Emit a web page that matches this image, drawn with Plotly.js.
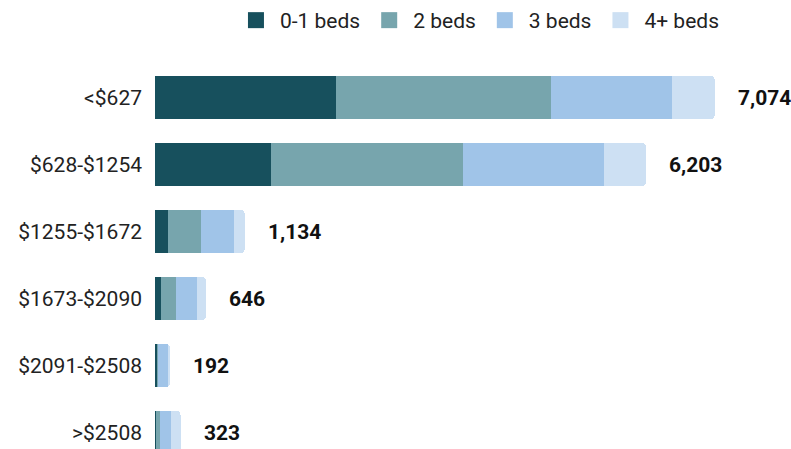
<!DOCTYPE html>
<html>
<head>
<meta charset="utf-8">
<script src="https://cdn.plot.ly/plotly-3.0.1.min.js"></script>
<style>html,body{margin:0;padding:0;overflow:hidden;background:#fff;}</style>
</head>
<body>
<div id="chart" style="width:791px;height:449px;"></div>
<script>
const categories = ["<$627", "$628-$1254", "$1255-$1672", "$1673-$2090", "$2091-$2508", ">$2508"];
const seriesNames = ["0-1 beds", "2 beds", "3 beds", "4+ beds"];
const beds01 = [2285, 1468, 164, 80, 25, 17];
const beds2 = [2718, 2428, 417, 189, 17, 50];
const beds3 = [1536, 1776, 413, 260, 118, 135];
const beds4 = [535, 531, 140, 117, 32, 121];
const totals = [7074, 6203, 1134, 646, 192, 323];
const colors = ["#17505d", "#77a5ad", "#a0c4e8", "#cde0f3"];

const seriesValues = [beds01, beds2, beds3, beds4];
const traces = seriesValues.map((vals, i) => ({
  type: "bar",
  orientation: "h",
  name: seriesNames[i],
  legendgroup: seriesNames[i],
  showlegend: false,
  y: categories,
  x: vals,
  marker: {color: colors[i], line: {width: 0}},
  hoverinfo: "x+name"
}));
// legend entries with larger square swatches, same groups as the bars
seriesNames.forEach((n, i) => traces.push({
  type: "scatter", mode: "markers", name: n, legendgroup: n, showlegend: true,
  x: [null], y: [null],
  marker: {symbol: "square", size: 16, color: colors[i]},
  hoverinfo: "skip"
}));

const annotations = categories.map((c, i) => ({
  x: totals[i], y: c, xref: "x", yref: "y",
  text: totals[i].toLocaleString("en-US"),
  showarrow: false, xanchor: "left", yanchor: "middle", xshift: 21,
  font: {family: "Roboto", size: 21, color: "#111", weight: 700}
}));

const layout = {
  width: 791, height: 449,
  margin: {l: 155, r: 3, t: 64, b: 0, pad: 0},
  barmode: "stack",
  bargap: 0.36,
  barcornerradius: 4,
  paper_bgcolor: "#fff", plot_bgcolor: "#fff",
  font: {family: "Roboto", size: 21, color: "#222"},
  xaxis: {range: [0, 8000], showgrid: false, zeroline: false, showticklabels: false, showline: false, fixedrange: true},
  yaxis: {type: "category", range: [5.246, -0.5], showgrid: false, zeroline: false, showline: false, ticks: "", ticklabelstandoff: 12,
          tickfont: {family: "Roboto", size: 21, color: "#222"}, fixedrange: true},
  showlegend: true,
  legend: {orientation: "h", x: 0.511, xanchor: "center", y: 1, yref: "container", yanchor: "top", itemwidth: 38,
           font: {family: "Roboto", size: 21, color: "#222"}, traceorder: "normal", itemclick: false},
  annotations: annotations
};

Plotly.newPlot("chart", traces, layout, {displayModeBar: false, staticPlot: true});
</script>
</body>
</html>
